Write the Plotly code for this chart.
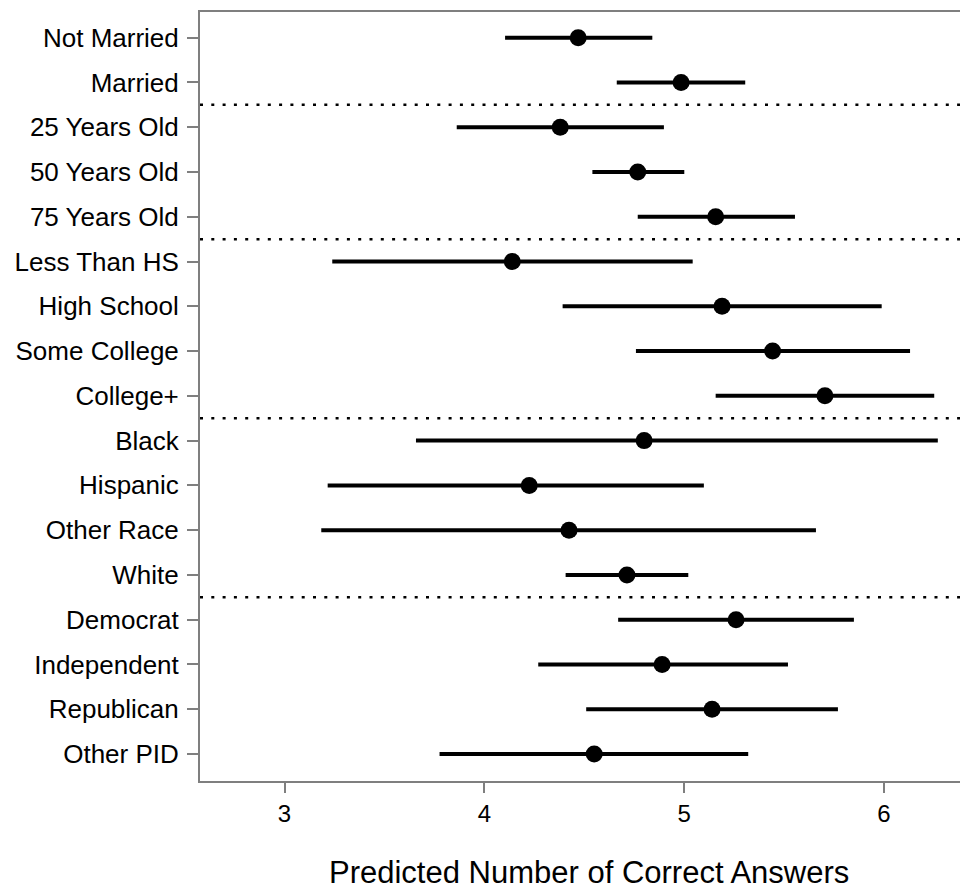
import plotly.graph_objects as go

categories = ["Not Married", "Married",
              "25 Years Old", "50 Years Old", "75 Years Old",
              "Less Than HS", "High School", "Some College", "College+",
              "Black", "Hispanic", "Other Race", "White",
              "Democrat", "Independent", "Republican", "Other PID"]
group_sizes = [2, 3, 4, 4, 4]

estimate = [4.47, 4.985, 4.38, 4.768, 5.158,
            4.14, 5.19, 5.443, 5.705,
            4.80, 4.225, 4.424, 4.714,
            5.26, 4.89, 5.14, 4.55]
lower = [4.104, 4.663, 3.862, 4.541, 4.768,
         3.239, 4.392, 4.759, 5.158,
         3.658, 3.216, 3.184, 4.407,
         4.67, 4.27, 4.51, 3.776]
upper = [4.841, 5.306, 4.899, 5.001, 5.555,
         5.043, 5.989, 6.131, 6.252,
         6.27, 5.099, 5.66, 5.021,
         5.85, 5.52, 5.77, 5.321]

x_ticks = [3, 4, 5, 6]
x_title = "Predicted Number of Correct Answers"

ypos = list(range(len(categories)))

fig = go.Figure()
fig.add_trace(go.Scatter(
    x=estimate, y=ypos, mode="markers",
    marker=dict(color="black", size=17),
    error_x=dict(type="data", symmetric=False,
                 array=[u - e for u, e in zip(upper, estimate)],
                 arrayminus=[e - l for e, l in zip(estimate, lower)],
                 color="black", thickness=4, width=0),
    showlegend=False, hoverinfo="skip"))

# group separators
b = 0
for s in group_sizes[:-1]:
    b += s
    fig.add_shape(type="line", xref="paper", x0=0, x1=1, yref="y",
                  y0=b - 0.5, y1=b - 0.5,
                  line=dict(color="black", width=2.5, dash="3px,8.3px"))

fig.add_annotation(text=x_title, xref="paper", yref="paper",
                   x=0.512, y=-0.119, xanchor="center", yanchor="middle",
                   showarrow=False,
                   font=dict(family="Liberation Sans, Arial", size=31, color="black"))

fig.update_layout(
    width=960, height=890,
    margin=dict(l=200, r=0, t=12, b=109),
    paper_bgcolor="white", plot_bgcolor="white",
    font=dict(family="Liberation Sans, Arial", color="black"),
    xaxis=dict(range=[2.577, 6.381], tickvals=x_ticks,
               ticktext=[str(t) for t in x_ticks],
               showgrid=False, zeroline=False, showline=True,
               linecolor="#7f7f7f", linewidth=2, mirror=True,
               ticks="outside", ticklen=10, tickwidth=2, tickcolor="#7f7f7f",
               tickfont=dict(size=24, color="black")),
    yaxis=dict(range=[16.603, -0.574], tickvals=ypos, ticktext=categories,
               showgrid=False, zeroline=False, showline=True,
               linecolor="#7f7f7f", linewidth=2,
               ticks="outside", ticklen=11, tickwidth=2, tickcolor="#7f7f7f",
               ticklabelstandoff=3,
               tickfont=dict(size=26, color="black")),
)

fig.write_html("out.html")
